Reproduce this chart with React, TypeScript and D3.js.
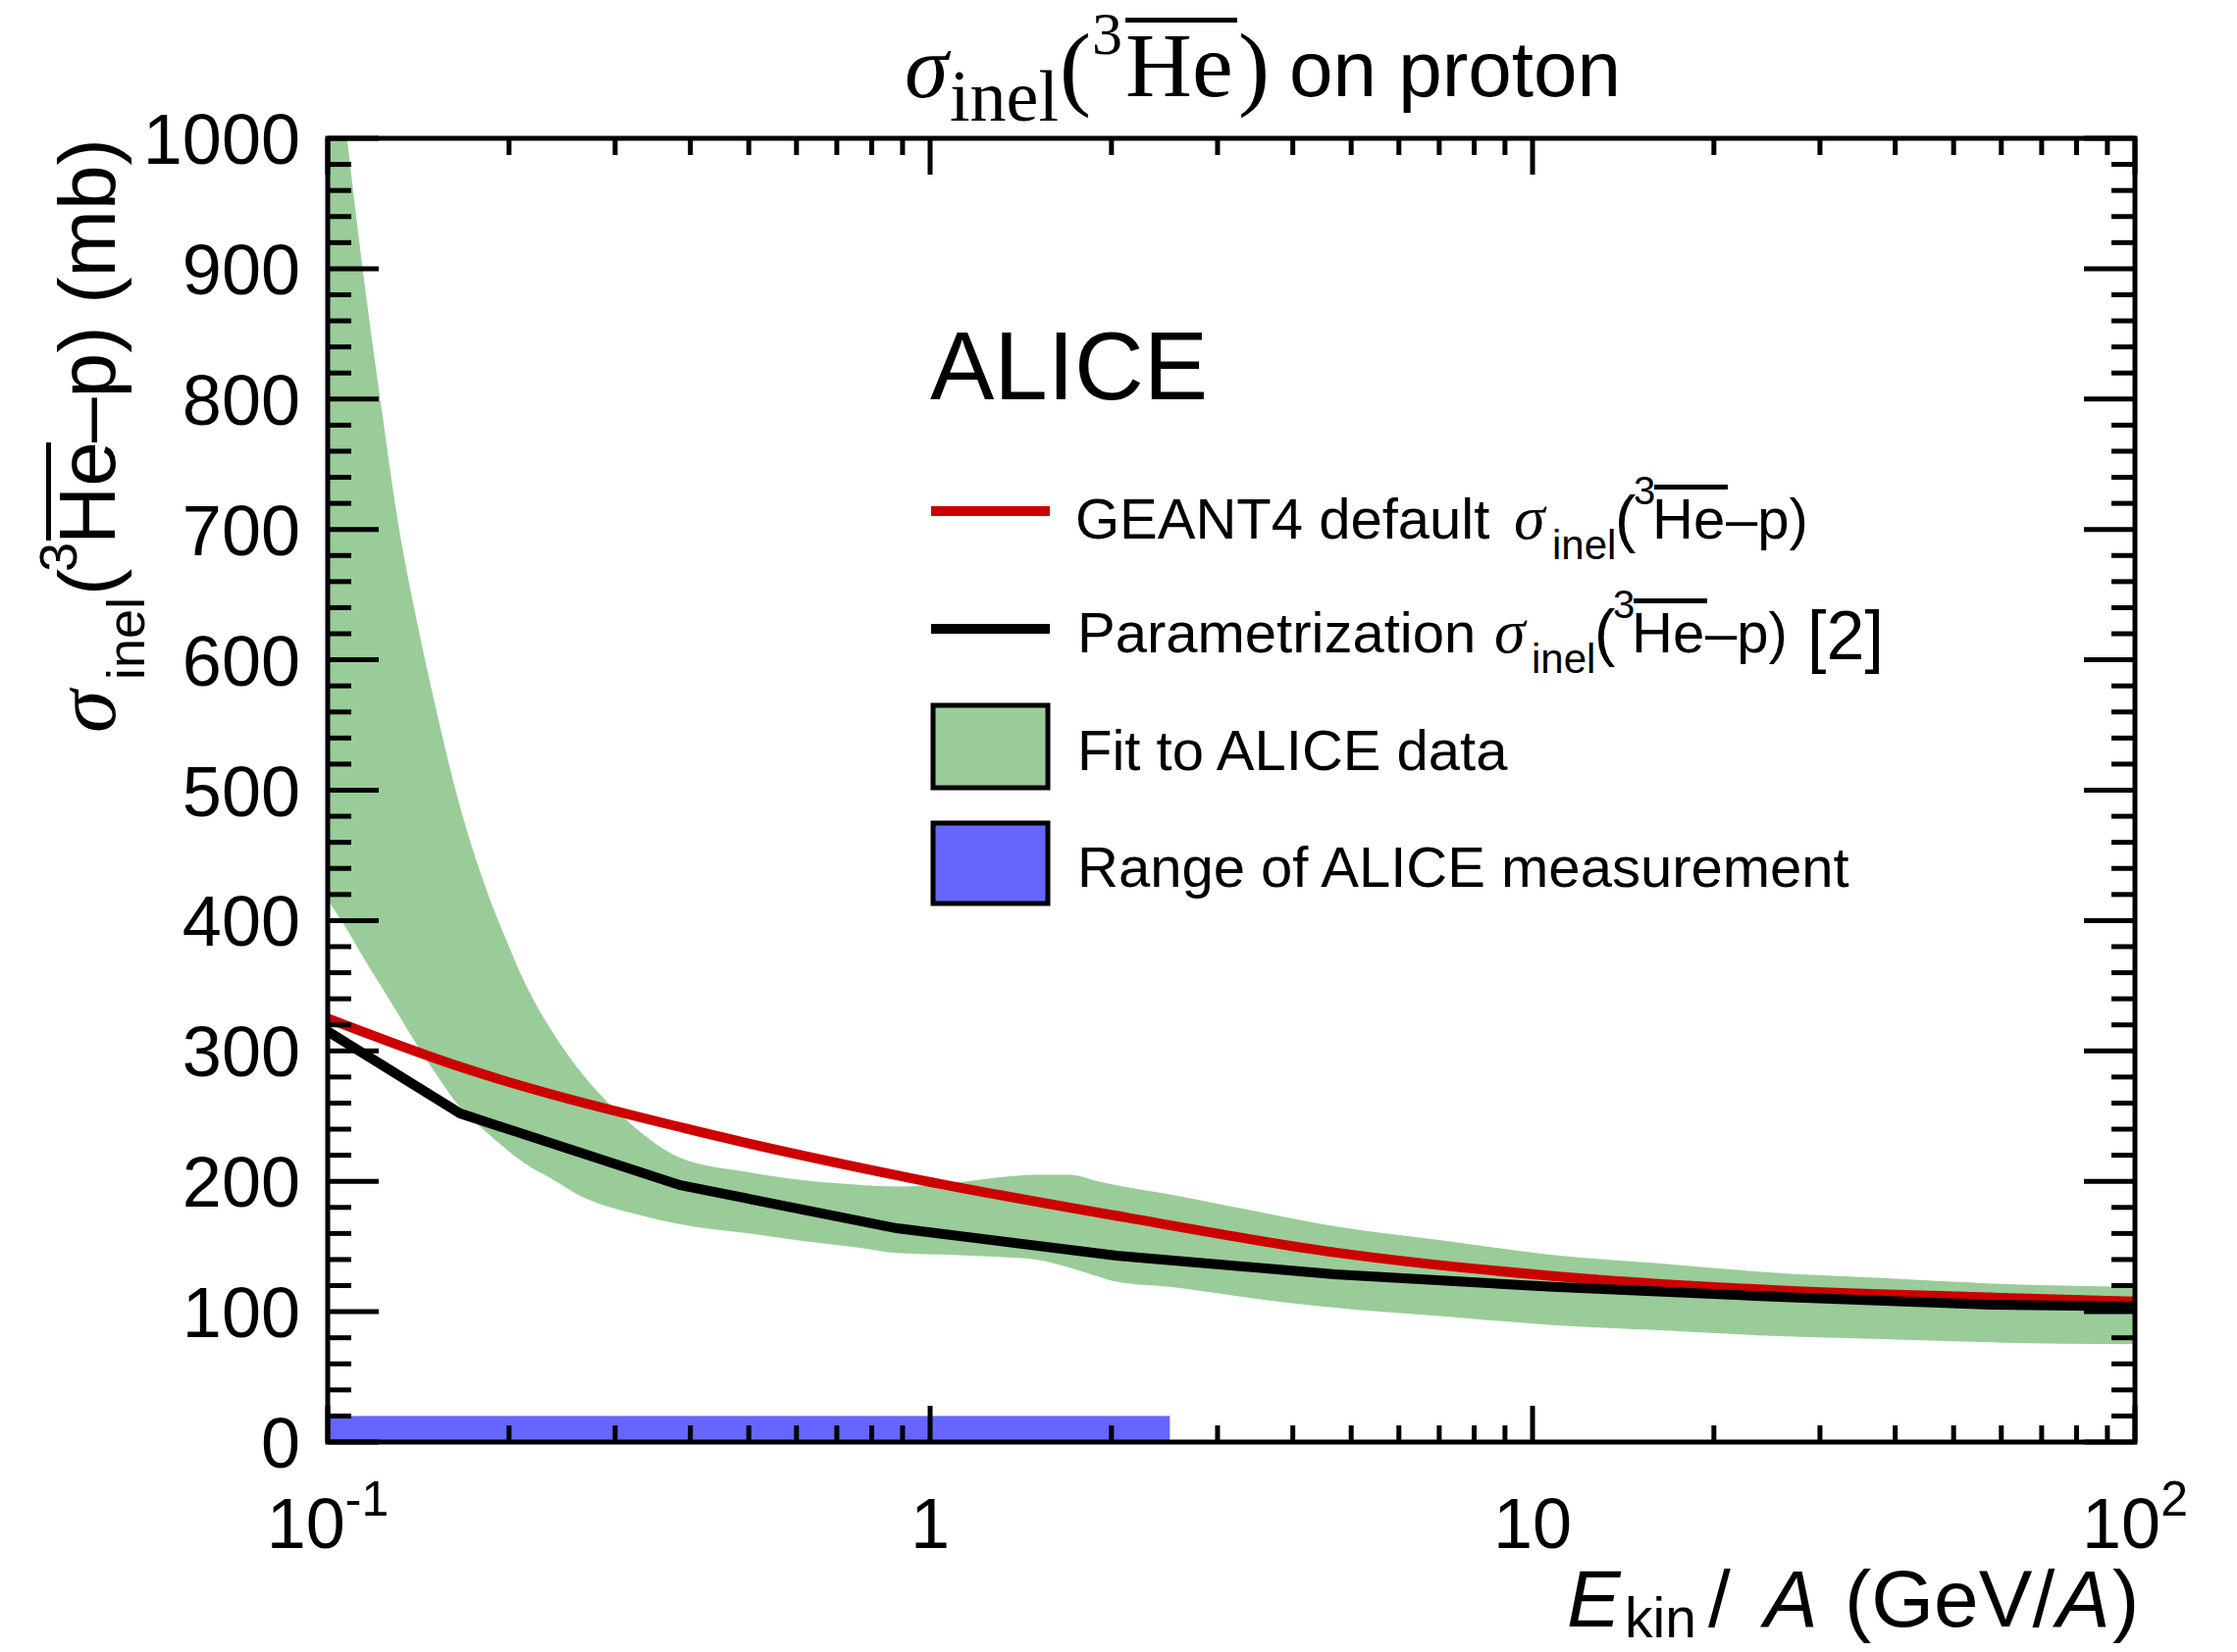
import React from 'react';
import * as d3 from 'd3';

// ---------------- data ----------------
// Fit to ALICE data (band), kinetic energy per nucleon (GeV/A)
const bandE = [0.1, 0.108, 0.1148, 0.1225, 0.131, 0.14, 0.151, 0.165, 0.182, 0.2, 0.212, 0.235, 0.265, 0.3, 0.33, 0.385, 0.5, 0.61, 0.75, 0.88, 1.1, 1.3, 1.5, 1.7, 1.9, 2.04, 2.5, 3.3, 4.69, 7, 10.8, 16, 25, 38, 57.8, 100];
const bandUpper = [1135, 995, 893, 797, 704, 634, 564, 491, 428, 380, 353, 316, 282, 255, 238, 218, 207, 201, 197.5, 196, 199, 203, 205, 205, 200, 197, 190, 179, 165.5, 155, 143.6, 137.3, 130, 125.8, 121.6, 119];
const bandLower = [416, 392, 371, 350, 328, 306, 283, 258, 239, 223, 214, 202, 188, 179, 174, 167, 160, 154.5, 149.5, 145, 143.5, 142, 140, 134, 127, 123, 119, 111.4, 103, 96.6, 89.8, 85.9, 81.5, 79, 76.5, 75];

// GEANT4 default
const geantE = [0.1, 0.168, 0.389, 0.94, 2.13, 4.69, 10.8, 25, 57.8, 100];
const geantXS = [325, 287, 241, 202, 172, 145.5, 127.4, 116.6, 110.9, 107.8];

// Parametrization [2]
const paramE = [0.1, 0.166, 0.385, 0.88, 2.04, 4.69, 10.8, 25, 57.8, 100];
const paramXS = [315, 252, 197, 164, 143, 128.6, 119, 111.6, 105.3, 104];

// Range of ALICE measurement
const rangeE = [0.1, 2.5];
const rangeXS = [0, 20];

// axes
const yMajorTicks = [0, 100, 200, 300, 400, 500, 600, 700, 800, 900, 1000];
const yMinorStep = 20;
const xMajorTicks = [0.1, 1, 10, 100];
const xTickBase = ['10', '1', '10', '10'];
const xTickSup = ['-1', '', '', '2'];

// ---------------- layout ----------------
const W = 2280;
const H = 1684;
const L = 334, R = 2176, T = 141, B = 1470;

const SANS = 'Liberation Sans, Arial, Helvetica, sans-serif';
const SERIF = 'Liberation Serif, Times New Roman, serif';
const GREEN = 'rgb(153,204,153)';
const BLUE = 'rgb(102,102,255)';
const RED = 'rgb(204,0,0)';

export default function App() {
  const x = d3.scaleLog().domain([0.1, 100]).range([L, R]);
  const y = d3.scaleLinear().domain([0, 1000]).range([B, T]);

  const band = d3
    .area<number>()
    .x((i) => x(bandE[i]))
    .y0((i) => y(bandLower[i]))
    .y1((i) => y(bandUpper[i]))
    .curve(d3.curveMonotoneX)(d3.range(bandE.length)) as string;

  const geantPath = d3
    .line<number>()
    .x((i) => x(geantE[i]))
    .y((i) => y(geantXS[i]))
    .curve(d3.curveMonotoneX)(d3.range(geantE.length)) as string;

  const paramPath = d3
    .line<number>()
    .x((i) => x(paramE[i]))
    .y((i) => y(paramXS[i]))
    .curve(d3.curveLinear)(d3.range(paramE.length)) as string;

  // ticks
  const yMinor = d3.range(0, 1000 + 1, yMinorStep).filter((v) => !yMajorTicks.includes(v));
  const xMinor: number[] = [];
  [0.1, 1, 10].forEach((dec) => {
    for (let k = 2; k <= 9; k++) xMinor.push(dec * k);
  });

  const tickW = 5;
  const yMajLen = 52, yMinLen = 24;
  const xMajLen = 37, xMinLen = 17;

  const ticks: JSX.Element[] = [];
  yMajorTicks.forEach((v, i) => {
    ticks.push(<line key={'ylm' + i} x1={L} x2={L + yMajLen} y1={y(v)} y2={y(v)} />);
    ticks.push(<line key={'yrm' + i} x1={R} x2={R - yMajLen} y1={y(v)} y2={y(v)} />);
  });
  yMinor.forEach((v, i) => {
    ticks.push(<line key={'yln' + i} x1={L} x2={L + yMinLen} y1={y(v)} y2={y(v)} />);
    ticks.push(<line key={'yrn' + i} x1={R} x2={R - yMinLen} y1={y(v)} y2={y(v)} />);
  });
  xMajorTicks.forEach((v, i) => {
    ticks.push(<line key={'xbm' + i} x1={x(v)} x2={x(v)} y1={B} y2={B - xMajLen} />);
    ticks.push(<line key={'xtm' + i} x1={x(v)} x2={x(v)} y1={T} y2={T + xMajLen} />);
  });
  xMinor.forEach((v, i) => {
    ticks.push(<line key={'xbn' + i} x1={x(v)} x2={x(v)} y1={B} y2={B - xMinLen} />);
    ticks.push(<line key={'xtn' + i} x1={x(v)} x2={x(v)} y1={T} y2={T + xMinLen} />);
  });

  const tickFont = 72;

  return (
    <svg
      width={W}
      height={H}
      viewBox={`0 0 ${W} ${H}`}
      style={{ position: 'absolute', left: 0, top: 0, background: '#fff' }}
    >
      <defs>
        <clipPath id="frameClip">
          <rect x={L} y={T} width={R - L} height={B - T} />
        </clipPath>
      </defs>
      <rect x={0} y={0} width={W} height={H} fill="#fff" />

      <g clipPath="url(#frameClip)">
        <path d={band} fill={GREEN} stroke="none" />
        <rect
          x={x(rangeE[0])}
          y={y(rangeXS[1])}
          width={x(rangeE[1]) - x(rangeE[0])}
          height={y(rangeXS[0]) - y(rangeXS[1])}
          fill={BLUE}
        />
        <path d={geantPath} fill="none" stroke={RED} strokeWidth={10} strokeLinejoin="round" />
        <path d={paramPath} fill="none" stroke="#000" strokeWidth={10} strokeLinejoin="miter" />
      </g>

      {/* frame and ticks */}
      <g stroke="#000" strokeWidth={tickW} strokeLinecap="butt">
        {ticks}
      </g>
      <rect x={L} y={T} width={R - L} height={B - T} fill="none" stroke="#000" strokeWidth={5} />

      {/* y tick labels */}
      <g fontFamily={SANS} fontSize={tickFont} fill="#000" textAnchor="end">
        {yMajorTicks.map((v) => (
          <text key={'yl' + v} x={306} y={y(v) + 26}>
            {v}
          </text>
        ))}
      </g>

      {/* x tick labels */}
      <g fontFamily={SANS} fontSize={tickFont} fill="#000" textAnchor="middle">
        {xMajorTicks.map((v, i) => (
          <text key={'xl' + i} x={x(v)} y={1578}>
            {xTickBase[i]}
            {xTickSup[i] ? (
              <tspan fontSize={50} dy={-33}>
                {xTickSup[i]}
              </tspan>
            ) : null}
          </text>
        ))}
      </g>

      {/* x axis title */}
      <g fontFamily={SANS} fill="#000" fontSize={82}>
        <text x={1597} y={1658} fontStyle="italic">E</text>
        <text x={1656} y={1669} fontSize={57}>kin</text>
        <text x={1741} y={1658}>/</text>
        <text x={1798} y={1658} fontStyle="italic">A</text>
        <text x={1880} y={1658}>(GeV/</text>
        <text x={2096} y={1658} fontStyle="italic">A</text>
        <text x={2153} y={1658}>)</text>
      </g>

      {/* y axis title */}
      <g transform="translate(117,747) rotate(-90)" fill="#000">
        <text x={0} y={0} fontFamily={SERIF} fontStyle="italic" fontSize={88}>σ</text>
        <text x={54} y={30} fontFamily={SANS} fontSize={54}>inel</text>
        <text x={140} y={0} fontFamily={SANS} fontSize={82}>(</text>
        <text x={164} y={-39} fontFamily={SANS} fontSize={54}>3</text>
        <text x={192} y={0} fontFamily={SANS} fontSize={82}>He</text>
        <rect x={196} y={-70} width={100} height={5} />
        <text x={296} y={0} fontFamily={SANS} fontSize={82} style={{ whiteSpace: 'pre' }}>–p) (mb)</text>
      </g>

      {/* title */}
      <g fill="#000">
        <text x={922} y={99} fontFamily={SERIF} fontStyle="italic" fontSize={90}>σ</text>
        <text x={968} y={123} fontFamily={SERIF} fontSize={74}>inel</text>
        <text x={1080} y={100} fontFamily={SERIF} fontSize={96}>(</text>
        <text x={1113} y={55} fontFamily={SERIF} fontSize={62}>3</text>
        <text x={1147} y={98} fontFamily={SERIF} fontSize={94}>He</text>
        <rect x={1147} y={18} width={114} height={5} />
        <text x={1262} y={100} fontFamily={SERIF} fontSize={96}>)</text>
        <text x={1314} y={98} fontFamily={SANS} fontSize={80}>on proton</text>
      </g>

      {/* ALICE */}
      <text x={948} y={407} fontFamily={SANS} fontSize={98} fill="#000">ALICE</text>

      {/* legend */}
      <g>
        <line x1={949} x2={1070} y1={521} y2={521} stroke={RED} strokeWidth={10} />
        <line x1={949} x2={1070} y1={641} y2={641} stroke="#000" strokeWidth={10} />
        <rect x={951} y={719} width={117} height={84} fill={GREEN} stroke="#000" strokeWidth={5} />
        <rect x={951} y={839} width={117} height={82} fill={BLUE} stroke="#000" strokeWidth={5} />
      </g>
      <g fontFamily={SANS} fontSize={58} fill="#000">
        <text x={1096} y={549}>GEANT4 default</text>
        <text x={1543} y={549} fontFamily={SERIF} fontStyle="italic" fontSize={64}>σ</text>
        <text x={1582} y={570} fontSize={42}>inel</text>
        <text x={1646} y={551} fontSize={64}>(</text>
        <text x={1665} y={514} fontSize={40}>3</text>
        <text x={1684} y={549}>He</text>
        <rect x={1686} y={494} width={75} height={5} />
        <text x={1759} y={549}>–p)</text>

        <text x={1098} y={665}>Parametrization</text>
        <text x={1523} y={665} fontFamily={SERIF} fontStyle="italic" fontSize={64}>σ</text>
        <text x={1561} y={686} fontSize={42}>inel</text>
        <text x={1625} y={667} fontSize={64}>(</text>
        <text x={1644} y={630} fontSize={40}>3</text>
        <text x={1663} y={665}>He</text>
        <rect x={1665} y={610} width={75} height={5} />
        <text x={1738} y={665}>–p)</text>
        <text x={1842} y={672} fontSize={70}>[2]</text>

        <text x={1098} y={785}>Fit to ALICE data</text>
        <text x={1098} y={904}>Range of ALICE measurement</text>
      </g>
    </svg>
  );
}
